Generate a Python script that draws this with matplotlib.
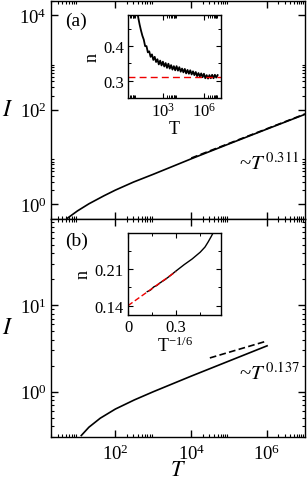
import matplotlib
matplotlib.use('Agg')
import matplotlib.pyplot as plt
import numpy as np
from matplotlib.ticker import FixedLocator, NullFormatter, LogFormatterSciNotation

# ---------------- data ----------------
# panel (a): I(T)
a_T = [5.4, 10, 20, 50, 100, 300, 1e3, 3.2e3, 1e4, 1e5, 1e6, 1e7]
a_I = [0.506, 0.724, 1.023, 1.514, 1.995, 2.951, 4.315, 6.31, 9.16, 19.0, 39.1, 80.0]
a_fit_T = [1e4, 1e7]
a_fit_I = [9.5, 81.4]

# panel (b): I(T)
b_T = [12.6, 20, 40, 100, 316, 1e3, 1e4, 1e5, 1e6]
b_I = [0.312, 0.389, 0.495, 0.631, 0.804, 1.0, 1.514, 2.265, 3.388]
b_fit_T = [3.1e4, 1e6]
b_fit_I = [2.455, 3.855]

# inset (a): local exponent n vs T (log10 T)
na_logT = [1.17, 1.2, 1.3, 1.4, 1.5, 1.6, 1.7, 1.8, 1.9, 2.0, 2.1, 2.2, 2.3, 2.4, 2.5,
           2.6, 2.7, 2.8, 2.9, 3.0, 3.1, 3.2, 3.3, 3.4, 3.5, 3.6, 3.7, 3.8, 3.9, 4.0,
           4.1, 4.2, 4.3, 4.4, 4.5, 4.6, 4.7, 4.8, 4.9, 5.0, 5.1, 5.2, 5.3, 5.4, 5.5,
           5.6, 5.7, 5.8, 5.9, 6.0, 6.1, 6.2, 6.3, 6.4, 6.5, 6.6, 6.7, 6.8, 6.9, 7.0]
na_n = [0.489, 0.482, 0.462, 0.445, 0.430, 0.419, 0.400, 0.400, 0.382, 0.385, 0.369,
        0.376, 0.360, 0.369, 0.354, 0.362, 0.347, 0.358, 0.344, 0.355, 0.341, 0.351,
        0.337, 0.349, 0.335, 0.345, 0.332, 0.342, 0.330, 0.342, 0.329, 0.339, 0.326,
        0.335, 0.324, 0.334, 0.321, 0.331, 0.320, 0.330, 0.318, 0.327, 0.316, 0.325,
        0.313, 0.322, 0.312, 0.321, 0.310, 0.320, 0.307, 0.316, 0.306, 0.316, 0.307,
        0.317, 0.307, 0.317, 0.309, 0.316]
na_fit = 0.311

# inset (b): n vs T^(-1/6)
nb_x = [0.12, 0.14, 0.16, 0.18, 0.2, 0.23, 0.26, 0.3, 0.35, 0.4, 0.45, 0.48, 0.5, 0.52, 0.53]
nb_n = [0.167, 0.170, 0.176, 0.179, 0.184, 0.190, 0.197, 0.207, 0.219, 0.230, 0.243,
        0.253, 0.263, 0.274, 0.280]
nb_fit_x = [0.0, 0.3]
nb_fit_n = [0.14, 0.206]

# ---------------- style ----------------
plt.rcParams['font.family'] = ['Liberation Serif', 'DejaVu Serif']
plt.rcParams['mathtext.fontset'] = 'stix'
plt.rcParams['axes.linewidth'] = 1.0

fig = plt.figure(figsize=(3.07, 4.85), dpi=100)
axa = fig.add_axes([0.166, 0.5474, 0.8274, 0.4485])
axb = fig.add_axes([0.166, 0.0969, 0.8274, 0.4505])

def even_minor(lo, hi, step):
    out = []
    for e in range(lo, hi, step):
        for k in range(2, 10):
            out.append(k * 10.0**e)
    return out

for ax in (axa, axb):
    ax.set_xscale('log')
    ax.set_yscale('log')
    ax.set_xlim(2, 1e7)
    ax.xaxis.set_major_locator(FixedLocator([1e0, 1e2, 1e4, 1e6]))
    ax.xaxis.set_minor_locator(FixedLocator(even_minor(0, 8, 2)))
    ax.xaxis.set_minor_formatter(NullFormatter())
    ax.tick_params(which='both', direction='in', top=True, right=True, labelsize=13.5)
    ax.tick_params(which='major', length=5, width=1.0)
    ax.tick_params(which='minor', length=2.5, width=0.8)
    ax.tick_params(axis='x', pad=5)
    ax.tick_params(axis='y', pad=3)

# panel (a)
axa.plot(a_T, a_I, '-', color='k', lw=1.2)
axa.plot(a_fit_T, a_fit_I, '--', color='k', lw=1.2, dashes=(4, 2))
axa.set_ylim(0.5, 2e4)
axa.yaxis.set_major_locator(FixedLocator([1e0, 1e2, 1e4]))
axa.yaxis.set_minor_locator(FixedLocator(even_minor(-2, 6, 2)))
axa.yaxis.set_minor_formatter(NullFormatter())
axa.set_xticklabels([])
axa.set_ylabel(r'$I$', fontsize=17, rotation=0, ha='center', va='center')
axa.yaxis.set_label_coords(-0.172, 0.5)
axa.text(0.055, 0.95, '(a)', transform=axa.transAxes, ha='left', va='top', fontsize=14)
axa.text(0.74, 0.228, r'~$T^{\,0.311}$', transform=axa.transAxes, ha='left',
         va='baseline', fontsize=15)

# panel (b)
axb.plot(b_T, b_I, '-', color='k', lw=1.2)
axb.plot(b_fit_T, b_fit_I, '--', color='k', lw=1.2, dashes=(4, 2))
axb.set_ylim(0.3, 100)
axb.yaxis.set_major_locator(FixedLocator([1e-1, 1e0, 1e1]))
axb.yaxis.set_minor_locator(FixedLocator(even_minor(-1, 2, 1)))
axb.yaxis.set_minor_formatter(NullFormatter())
axb.xaxis.set_major_formatter(LogFormatterSciNotation())
axb.set_ylabel(r'$I$', fontsize=17, rotation=0, ha='center', va='center')
axb.yaxis.set_label_coords(-0.172, 0.5)
axb.set_xlabel(r'$T$', fontsize=16)
axb.xaxis.set_label_coords(0.5, -0.11)
axb.text(0.055, 0.94, '(b)', transform=axb.transAxes, ha='left', va='top', fontsize=14)
axb.text(0.74, 0.266, r'~$T^{\,0.137}$', transform=axb.transAxes, ha='left',
         va='baseline', fontsize=15)

# inset (a)
ia = fig.add_axes([0.417, 0.796, 0.303, 0.171])
ia.plot([10.0**v for v in na_logT], na_n, '-', color='k', lw=1.3)
ia.axhline(na_fit, color='#ee0000', lw=1.0, ls='--', dashes=(5, 3))
ia.set_xscale('log')
ia.set_xlim(10**0.45, 10**7.25)
ia.set_ylim(0.25, 0.49)
ia.xaxis.set_major_locator(FixedLocator([1e0, 1e3, 1e6]))
ia.xaxis.set_minor_locator(FixedLocator(even_minor(0, 9, 3)))
ia.xaxis.set_minor_formatter(NullFormatter())
ia.yaxis.set_major_locator(FixedLocator([0.3, 0.4]))
ia.yaxis.set_minor_locator(FixedLocator([0.25, 0.35, 0.45]))
ia.set_yticklabels(['0.3', '0.4'])
ia.set_xlabel('T', fontsize=13, labelpad=0)
ia.set_ylabel('n', fontsize=13, labelpad=2)

# inset (b)
ib = fig.add_axes([0.417, 0.3485, 0.303, 0.169])
ib.plot(nb_x, nb_n, '-', color='k', lw=1.0)
ib.plot(nb_fit_x, nb_fit_n, '--', color='#ee0000', lw=1.0, dashes=(4, 2))
ib.set_xlim(0, 0.58)
ib.set_ylim(0.122, 0.28)
ib.xaxis.set_major_locator(FixedLocator([0, 0.3]))
ib.xaxis.set_minor_locator(FixedLocator([0.15, 0.45]))
ib.set_xticklabels(['0', '0.3'])
ib.yaxis.set_major_locator(FixedLocator([0.14, 0.21]))
ib.yaxis.set_minor_locator(FixedLocator([0.175, 0.245]))
ib.set_yticklabels(['0.14', '0.21'])
ib.set_xlabel(r'T$^{\mathregular{-1/6}}$', fontsize=13, labelpad=0)
ib.set_ylabel('n', fontsize=13, labelpad=2)

for ax in (ia, ib):
    ax.tick_params(which='both', direction='in', top=True, right=True, labelsize=12)
    ax.tick_params(which='major', length=3.5, width=0.8, pad=3)
    ax.tick_params(which='minor', length=2, width=0.7)
    for s in ax.spines.values():
        s.set_linewidth(1.0)

fig.savefig('out.png', dpi=100)
